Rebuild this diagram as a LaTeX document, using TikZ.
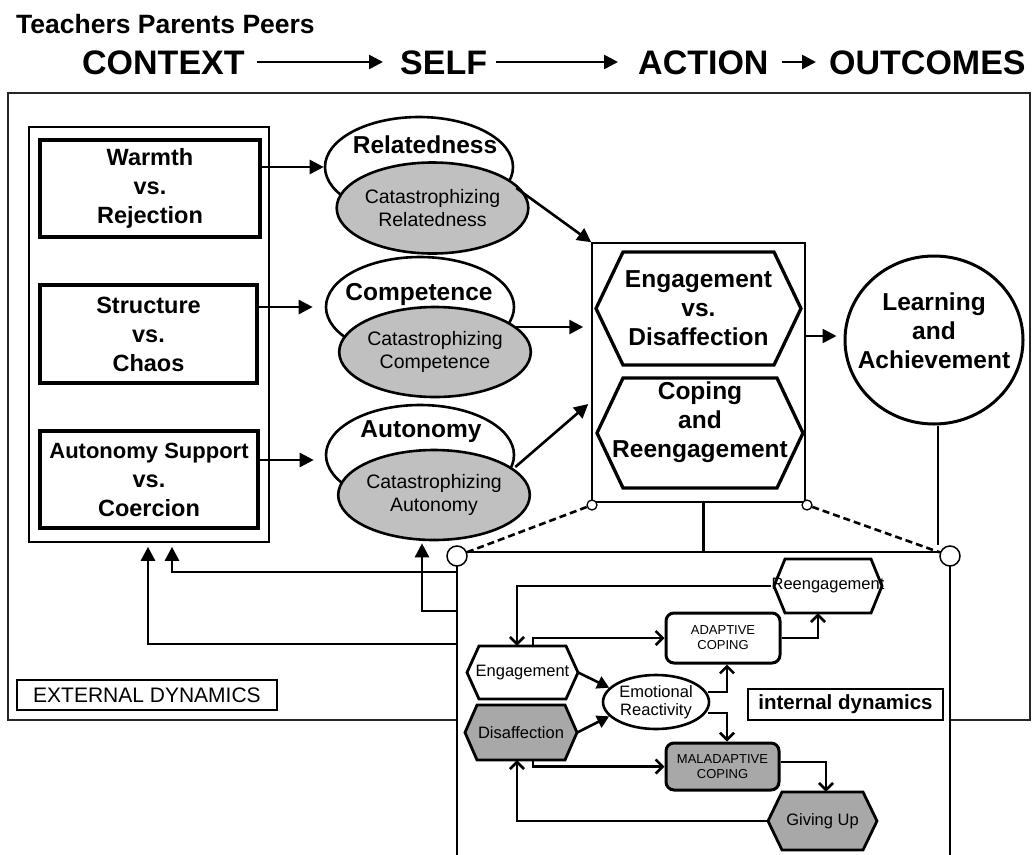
\documentclass[tikz,border=0pt]{standalone}
\usepackage{fontspec}
\setmainfont{Liberation Sans}
\usetikzlibrary{arrows.meta,calc,shapes.geometric}
\definecolor{lg}{RGB}{192,192,192}
\definecolor{dg}{RGB}{168,168,168}
\newcommand\fs[2]{\fontsize{#1}{#2}\selectfont}
% hexagon: #1 path style, #2 name, #3 cx, #4 cy, #5 w, #6 h, #7 inset, #8 text style, #9 text
\newcommand\hexa[9]{%
  \path[#1] ({#3-#5/2},#4) -- ({#3-#5/2+#7},{#4-#6/2}) -- ({#3+#5/2-#7},{#4-#6/2})
    -- ({#3+#5/2},#4) -- ({#3+#5/2-#7},{#4+#6/2}) -- ({#3-#5/2+#7},{#4+#6/2}) -- cycle;
  \node[inner sep=0pt, minimum width=#5 pt, minimum height=#6 pt, #8] (#2) at (#3,#4) {#9};}
\begin{document}
\begin{tikzpicture}[x=1pt,y=-1pt,
  title/.style={anchor=base west, inner sep=0pt, font=\fs{34}{38}\bfseries},
  tarr/.style={line width=2.6pt,-{Triangle[length=14pt,width=14pt]}},
  arr/.style={line width=2.6pt,-{Triangle[length=14pt,width=14pt]}},
  farr/.style={line width=2.6pt,-{Triangle[length=12pt,width=13pt]}},
  oarr/.style={line width=2.6pt,-{Straight Barb[length=7pt,width=14pt,line width=2.6pt]}},
  ctxbox/.style={draw, line width=3.6pt, fill=white, inner sep=0pt, align=center, font=\fs{23.5}{29}\bfseries},
  whiteell/.style={ellipse, draw, line width=2.6pt, fill=white, inner sep=0pt},
  grayell/.style={ellipse, draw, line width=2.6pt, fill=lg, inner sep=0pt, align=center, font=\fs{19.5}{23}},
  lab/.style={inner sep=0pt, font=\fs{24.5}{29}\bfseries},
  bighex/.style={draw, line width=3.3pt, fill=white},
  ihex/.style={draw, line width=2.8pt, fill=white},
  ihexg/.style={draw, line width=2.8pt, fill=dg},
  itxt/.style={font=\fs{16.5}{19}},
  rrect/.style={draw, line width=3pt, rounded corners=8pt, fill=white, inner sep=0pt, align=center, font=\fs{13}{15}},
  dline/.style={line width=2.6pt, dash pattern=on 7pt off 4pt},
  smallc/.style={circle, draw, fill=white, line width=1.3pt, minimum size=10pt, inner sep=0pt},
  bigc/.style={circle, draw, fill=white, line width=1.5pt, minimum size=20pt, inner sep=0pt}
]
\useasboundingbox (0,0) rectangle (1036,854);

% ---------- title row ----------
\node[anchor=base west, inner sep=0pt, font=\fs{26.5}{30}\bfseries] (tpp) at (16,33) {Teachers Parents Peers};
\node[title] (tcontext) at (82,74) {CONTEXT};
\node[title] (tself) at (400,74) {SELF};
\node[title] (taction) at (638,74) {ACTION};
\node[title] (toutcomes) at (829,74) {OUTCOMES};
\draw[tarr] ([shift={(12,-12)}]tcontext.base east) -- ([shift={(-17,-12)}]tself.base west);
\draw[tarr] ([shift={(9,-12)}]tself.base east) -- ([shift={(-20,-12)}]taction.base west);
\draw[tarr] ([shift={(13,-12)}]taction.base east) -- ([shift={(-13,-12)}]toutcomes.base west);

% ---------- external frame ----------
\node[draw=black!85, line width=1.8pt, minimum width=1022pt, minimum height=627pt, inner sep=0pt] (outer) at (519,406.5) {};
\node[draw, line width=1.6pt, minimum width=240pt, minimum height=415pt, inner sep=0pt] (ctx) at (149,334.5) {};

% context boxes
\node[ctxbox, minimum width=220pt, minimum height=97pt] (warm) at (150,188.5) {Warmth\\vs.\\Rejection};
\node[ctxbox, minimum width=217pt, minimum height=98pt] (struct) at (148.5,334) {Structure\\vs.\\Chaos};
\node[ctxbox, minimum width=218pt, minimum height=97pt] (auto) at (149,479.5) {{\fs{22}{29}Autonomy Support}\\vs.\\Coercion};

% self ellipses
\node[whiteell, minimum width=188pt, minimum height=100pt] (relw) at (419,167) {};
\node[lab] (rellab) at (425,145) {Relatedness};
\node[grayell, minimum width=149pt, minimum height=91pt] (relg) at (432.5,208) {Catastrophizing\\Relatedness};

\node[whiteell, minimum width=188pt, minimum height=100pt] (compw) at (420,307) {};
\node[lab] (complab) at (419,294) {Competence};
\node[grayell, minimum width=150pt, minimum height=90pt] (compg) at (435,352) {Catastrophizing\\Competence};

\node[whiteell, minimum width=188pt, minimum height=100pt] (autw) at (420,455) {};
\node[lab] (autlab) at (421,432) {Autonomy};
\node[grayell, minimum width=148pt, minimum height=90pt] (autg) at (434,495) {Catastrophizing\\Autonomy};

\draw[arr] (warm.east |- relw) -- (relw.west);
\draw[arr] (struct.east |- compw) -- ([shift={(-12,0)}]compw.west);
\draw[arr] ([shift={(0,-19.5)}]auto.east) -- ([shift={(-11,5)}]autw.west);

% action box
\node[draw, line width=1.5pt, minimum width=213pt, minimum height=259pt, inner sep=0pt] (cbox) at (698.5,372.5) {};
\hexa{bighex}{hex1}{698.5}{308.5}{205}{113}{27}{align=center, font=\fs{24.5}{29}\bfseries}{Engagement\\vs.\\Disaffection}
\hexa{bighex}{hex2}{700}{433}{206}{110}{26}{align=center, font=\fs{24.5}{29}\bfseries, yshift=11pt}{Coping\\and\\Reengagement}

\draw[arr] ([shift={(2,21)}]relw.east) -- (cbox.north west);
\draw[arr] ([shift={(-1,20)}]compw.east) -- ([shift={(-8,-45.5)}]cbox.west);
\draw[arr] ([shift={(0,12)}]autw.east) -- ([shift={(-3,31.5)}]cbox.west);

% outcomes
\node[whiteell, line width=3pt, minimum width=178pt, minimum height=168pt] (learn) at (934,340) {};
\node[lab, align=center] (learntxt) at (934,331) {Learning\\and\\Achievement};
\draw[arr] ([shift={(0,-36.5)}]cbox.east) -- ([shift={(-7,-4)}]learn.west);

% external label
\node[draw, line width=1.3pt, fill=white, minimum width=260pt, minimum height=30pt, inner sep=0pt, font=\fs{21}{24}] (extlab) at (147,695) {EXTERNAL DYNAMICS};

% ---------- internal dynamics panel ----------
\coordinate (ibnw) at (457,552);
\draw[arr] ([shift={(0,20)}]ibnw) -| ([shift={(23,4)}]ctx.south);
\draw[arr] ([shift={(0,92)}]ibnw) -| ([shift={(-1,4)}]ctx.south);
\draw[arr] ([shift={(0,59)}]ibnw) -| ([shift={(-12,2)}]autg.south);
\node[draw, line width=1.8pt, fill=white, minimum width=493pt, minimum height=318pt, inner sep=0pt] (ibox) at (703.5,711) {};
\draw[line width=2.6pt] ([shift={(5,0)}]cbox.south) -- (ibox.north);
\node[smallc] (sc1) at (592,505) {};
\node[smallc] (sc2) at (807,505) {};
\node[bigc] (bc1) at (457,556) {};
\node[bigc] (bc2) at (950,556) {};
\draw[line width=2.6pt] ([shift={(4,0)}]learn.south) -- ([shift={(4,0)}]learn.south |- bc2.north);
\draw[dline] (sc1) -- (bc1);
\draw[dline] (sc2) -- (bc2);

\hexa{ihex}{ieng}{522.5}{672.5}{111}{53}{12}{itxt}{Engagement}
\hexa{ihexg}{idis}{521}{732.5}{112}{55}{12}{itxt}{Disaffection}
\hexa{ihex}{ireeng}{828}{586}{108}{54}{11}{itxt}{Reengagement}
\hexa{ihexg}{igive}{822.5}{821}{109}{58}{14}{itxt}{Giving Up}
\node[rrect, minimum width=114pt, minimum height=50pt] (iad) at (723,638) {ADAPTIVE\\COPING};
\node[rrect, fill=dg, minimum width=113pt, minimum height=47pt] (imal) at (722.5,766.5) {MALADAPTIVE\\COPING};
\node[ellipse, draw, line width=2.6pt, fill=white, minimum width=106pt, minimum height=54pt, inner sep=0pt, align=center, font=\fs{16.5}{18}] (ier) at (656,702) {Emotional\\Reactivity};
\node[draw, line width=1.3pt, fill=white, minimum width=195pt, minimum height=31pt, inner sep=0pt, font=\fs{20.5}{24}\bfseries] (intlab) at (845.5,704.5) {internal dynamics};

\draw[oarr] (ireeng.west) -| ([shift={(-5.5,0)}]ieng.north);
\draw[oarr] ([shift={(10.5,0)}]ieng.north) |- (iad.west);
\draw[farr] (ieng.east) -- (ier.163);
\draw[farr] (idis.east) -- (ier.197);
\draw[oarr] ([shift={(-2,-10)}]ier.east) -| ([shift={(4,0)}]iad.south);
\draw[oarr] ([shift={(-2,11)}]ier.east) -| ([shift={(4.5,0)}]imal.north);
\draw[oarr] ([shift={(12,0)}]idis.south) |- (imal.west);
\draw[oarr] (igive.west) -| ([shift={(-4,0)}]idis.south);
\draw[oarr] (iad.east) -| ([shift={(-10,0)}]ireeng.south);
\draw[oarr] ([shift={(0,-4.5)}]imal.east) -| ([shift={(3.5,0)}]igive.north);
\end{tikzpicture}
\end{document}
